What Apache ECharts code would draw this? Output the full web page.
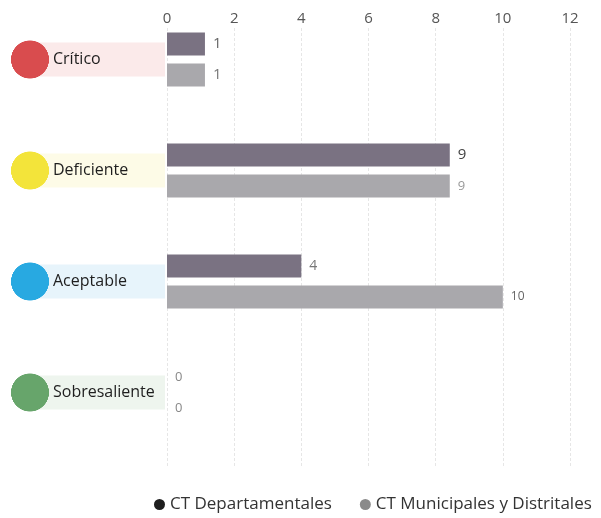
<!DOCTYPE html>
<html>
<head>
<meta charset="utf-8">
<script src="https://cdn.jsdelivr.net/npm/echarts@6/dist/echarts.min.js"></script>
<style>html,body{margin:0;padding:0;background:#fff;}#c{width:601px;height:518px;}</style>
</head>
<body>
<div id="c"></div>
<script>
const categories = ['Crítico', 'Deficiente', 'Aceptable', 'Sobresaliente'];
const seriesNames = ['CT Departamentales', 'CT Municipales y Distritales'];
const deptValues = [1.13, 8.42, 4, 0];
const muniValues = [1.13, 8.42, 10, 0];
const deptLabels = ['1', '9', '4', '0'];
const muniLabels = ['1', '9', '10', '0'];
const xTicks = [0, 2, 4, 6, 8, 10, 12];

const circleColors = ['#d94c4e', '#f3e43a', '#28a9e1', '#67a56b'];
const pillColors = ['#fbeaea', '#fdfbe7', '#e7f4fb', '#eef5ee'];
const FONT = 'Open Sans';
const CAT_FS = 16;

const ctx = document.createElement('canvas').getContext('2d');
ctx.font = CAT_FS + 'px "' + FONT + '"';

// marker image: circle overlapping the start of the pill
function markerImage(circle, pill) {
  const s = 3, W = 38, H = 38;
  const cv = document.createElement('canvas');
  cv.width = W * s; cv.height = H * s;
  const g = cv.getContext('2d');
  g.scale(s, s);
  g.fillStyle = pill;
  g.fillRect(28, 2, 10, 34);
  g.fillStyle = circle;
  g.beginPath();
  g.arc(19, 19, 19, 0, Math.PI * 2);
  g.fill();
  return cv;
}

const rich = {};
categories.forEach((c, i) => {
  const w = ctx.measureText(c).width;
  const pr = Math.max(0, 112 - w);
  rich['c' + i] = { width: 38, height: 38, backgroundColor: { image: markerImage(circleColors[i], pillColors[i]) } };
  rich['t' + i] = { height: 34, lineHeight: 34, padding: [0, pr, 0, 4],
    backgroundColor: pillColors[i], fontSize: CAT_FS, color: '#1e1e1e', fontFamily: FONT };
});

const deptLabelStyle = [
  { color: '#666', fontSize: 15 }, { color: '#444', fontSize: 15 }, { color: '#777', fontSize: 14 }, { color: '#888', fontSize: 13 }
];
const muniLabelStyle = [
  { color: '#777', fontSize: 15 }, { color: '#999', fontSize: 13 }, { color: '#666', fontSize: 12 }, { color: '#888', fontSize: 13 }
];

const chart = echarts.init(document.getElementById('c'));
chart.setOption({
  backgroundColor: '#fff',
  animation: false,
  textStyle: { fontFamily: FONT },
  grid: [
    { left: 167, right: 31, top: 4, bottom: 70 },
    { left: 167, right: 31, top: 28, bottom: 50 }
  ],
  legend: {
    bottom: 0, left: 149,
    itemWidth: 11, itemHeight: 11, itemGap: 28,
    icon: 'circle',
    textStyle: { fontSize: 17, color: '#333', fontFamily: FONT },
    data: [
      { name: seriesNames[0], itemStyle: { color: '#1e1e1e' } },
      { name: seriesNames[1], itemStyle: { color: '#8a8a8a' } }
    ]
  },
  xAxis: [
    { gridIndex: 0, type: 'value', min: 0, max: 12, interval: 2, show: false },
    { gridIndex: 1, type: 'value', min: 0, max: 12, interval: 2, position: 'top',
      axisLine: { show: false }, axisTick: { show: false },
      axisLabel: { fontSize: 15, color: '#555', margin: 2, fontFamily: FONT },
      splitLine: { show: true, lineStyle: { color: '#e6e6e6', type: [3, 2], width: 1 } } }
  ],
  yAxis: [
    { gridIndex: 0, type: 'category', data: categories, inverse: true,
      axisLine: { show: false }, axisTick: { show: false }, splitLine: { show: false },
      axisLabel: { margin: 2, formatter: (v, i) => `{c${i}|}{t${i}|${v}}`, rich: rich } },
    { gridIndex: 1, type: 'category', data: categories, show: false }
  ],
  series: [
    { name: seriesNames[0], type: 'bar', xAxisIndex: 0, yAxisIndex: 0, barWidth: 23, barGap: '35%',
      itemStyle: { color: '#7a7282' },
      data: deptValues.map((v, i) => ({ value: v,
        label: Object.assign({ show: true, position: 'right', distance: 8, fontFamily: FONT,
          formatter: () => deptLabels[i] }, deptLabelStyle[i]) })) },
    { name: seriesNames[1], type: 'bar', xAxisIndex: 0, yAxisIndex: 0, barWidth: 23, barGap: '35%',
      itemStyle: { color: '#a9a8ac' },
      data: muniValues.map((v, i) => ({ value: v,
        label: Object.assign({ show: true, position: 'right', distance: 8, fontFamily: FONT,
          formatter: () => muniLabels[i] }, muniLabelStyle[i]) })) }
  ]
});
</script>
</body>
</html>
